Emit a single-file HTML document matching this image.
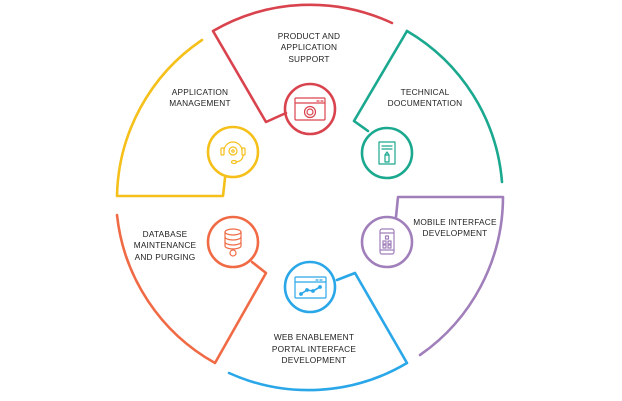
<!DOCTYPE html>
<html><head><meta charset="utf-8"><style>
html,body{margin:0;padding:0;background:#fff;}
svg{display:block;}
text{font-family:"Liberation Sans",sans-serif;font-size:8.3px;fill:#222;text-anchor:middle;letter-spacing:0.2px;}
</style></head><body>
<svg width="622" height="401" viewBox="0 0 622 401" fill="none" stroke-width="2.6" stroke-linecap="round" stroke-linejoin="round">
<!-- red -->
<g stroke="#d9434e">
<path d="M392,23 A193,193 0 0 0 213,31 L266,122 L286,113"/>
<circle cx="310" cy="109" r="25"/>
<g stroke-width="1.2"><rect x="295" y="98" width="30" height="22" rx="1"/><line x1="295" y1="103" x2="325" y2="103"/><line x1="317" y1="101" x2="319" y2="101"/><line x1="321" y1="101" x2="323" y2="101"/><circle cx="310" cy="112" r="3"/><circle cx="310" cy="112" r="5.5"/></g>
</g>
<!-- yellow -->
<g stroke="#f5c01a">
<path d="M202,40 A193,193 0 0 0 117,196 L223,196 L225,178"/>
<circle cx="233" cy="152" r="25"/>
<g stroke-width="1.2"><circle cx="233" cy="151" r="4"/><circle cx="233" cy="151" r="1.2"/><path d="M224,151 a9,9 0 0 1 18,0"/><rect x="221" y="148" width="3" height="7" rx="1"/><rect x="242" y="148" width="3" height="7" rx="1"/><path d="M243,155 q0,6 -7,7"/><ellipse cx="234" cy="162" rx="2.5" ry="1.5"/></g>
</g>
<!-- teal -->
<g stroke="#1aa88f">
<path d="M407,31 A193,193 0 0 1 502,182"/>
<path d="M407,31 L354,121 L368,131"/>
<circle cx="387" cy="153" r="25"/>
<g stroke-width="1.2"><rect x="379" y="142" width="16" height="22"/><line x1="382" y1="146" x2="392" y2="146"/><line x1="382" y1="149" x2="392" y2="149"/><rect x="385" y="155" width="4" height="7"/><path d="M385,155 l2,-3 l2,3"/></g>
</g>
<!-- purple -->
<g stroke="#a07fba">
<path d="M396,217 L398,197 L503,197 A193,193 0 0 1 420,355"/>
<circle cx="387" cy="242" r="25"/>
<g stroke-width="1.2"><rect x="380" y="229" width="14" height="25" rx="2"/><line x1="380" y1="233" x2="394" y2="233"/><line x1="380" y1="250" x2="394" y2="250"/><rect x="385.5" y="236" width="3" height="3"/><rect x="383" y="241" width="3" height="3"/><rect x="388" y="241" width="3" height="3"/><rect x="383" y="245" width="3" height="3"/><rect x="388" y="245" width="3" height="3"/></g>
</g>
<!-- orange -->
<g stroke="#f06b45">
<path d="M117,215 A193,193 0 0 0 215,363 L266,273 L252,262"/>
<circle cx="233" cy="242" r="25"/>
<g stroke-width="1.2"><ellipse cx="233" cy="232" rx="8" ry="3"/><path d="M225,232 v14 a8,3 0 0 0 16,0 v-14"/><path d="M225,237 a8,3 0 0 0 16,0"/><path d="M225,242 a8,3 0 0 0 16,0"/><circle cx="233" cy="253" r="3"/></g>
</g>
<!-- blue -->
<g stroke="#2aa7e8">
<path d="M229,373 A193,193 0 0 0 407,363 L355,273 L337,280"/>
<circle cx="310" cy="287" r="25"/>
<g stroke-width="1.2"><rect x="295" y="277" width="31" height="21" rx="1"/><line x1="295" y1="282" x2="326" y2="282"/><line x1="316" y1="280" x2="318" y2="280"/><line x1="320" y1="280" x2="322" y2="280"/><path d="M301,294 L307,290 L313,291 L320,287" stroke-width="1.6"/><circle cx="301" cy="294" r="1.3" fill="#2aa7e8"/><circle cx="307" cy="290" r="1.3" fill="#2aa7e8"/><circle cx="313" cy="291" r="1.3" fill="#2aa7e8"/><circle cx="320" cy="287" r="1.3" fill="#2aa7e8"/></g>
</g>
<g stroke="none">
<text x="309" y="39">PRODUCT AND</text>
<text x="309" y="50">APPLICATION</text>
<text x="309" y="62">SUPPORT</text>
<text x="200" y="95">APPLICATION</text>
<text x="200" y="106">MANAGEMENT</text>
<text x="425" y="95">TECHNICAL</text>
<text x="425" y="106">DOCUMENTATION</text>
<text x="165" y="237">DATABASE</text>
<text x="165" y="248">MAINTENANCE</text>
<text x="165" y="260">AND PURGING</text>
<text x="455" y="225">MOBILE INTERFACE</text>
<text x="455" y="236">DEVELOPMENT</text>
<text x="314" y="340">WEB ENABLEMENT</text>
<text x="314" y="352">PORTAL INTERFACE</text>
<text x="314" y="363">DEVELOPMENT</text>
</g>
</svg>
</body></html>
